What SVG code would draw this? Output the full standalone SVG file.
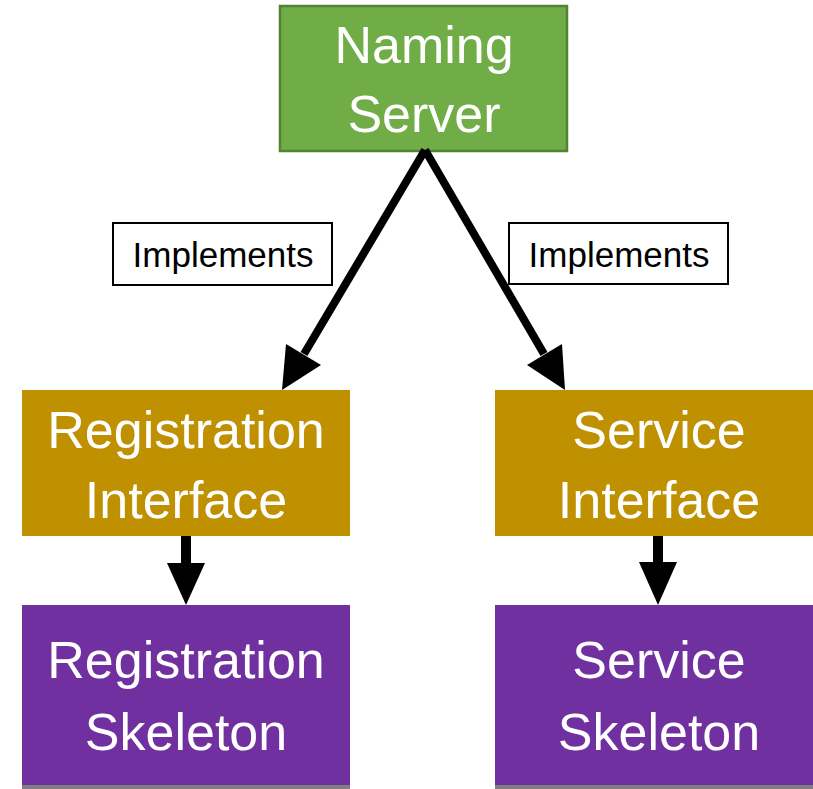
<svg xmlns="http://www.w3.org/2000/svg" width="813" height="789" viewBox="0 0 813 789">
<style>
.t{font-family:"Liberation Sans",Arial,sans-serif;fill:#fff;font-size:52px;text-anchor:middle}
.l{font-family:"Liberation Sans",Arial,sans-serif;fill:#000;font-size:35px;text-anchor:middle}
.lb{fill:#fff;stroke:#000;stroke-width:2}
.c{stroke:#000;fill:none}
.h{fill:#000}
</style>
<rect width="813" height="789" fill="#fff"/>
<g id="naming-server">
<rect x="280" y="6" width="287" height="145" fill="#70AD47" stroke="#548235" stroke-width="2.5"/>
<text class="t" x="424" y="63">Naming</text>
<text class="t" x="424" y="132">Server</text>
</g>
<g id="registration-interface">
<rect x="22" y="390" width="328" height="146" fill="#BF9000"/>
<text class="t" x="186" y="448">Registration</text>
<text class="t" x="186" y="518">Interface</text>
</g>
<g id="service-interface">
<rect x="495" y="390" width="328" height="146" fill="#BF9000"/>
<text class="t" x="659" y="448">Service</text>
<text class="t" x="659" y="518">Interface</text>
</g>
<g id="registration-skeleton">
<rect x="22" y="785" width="328" height="4" fill="#7F7F7F"/>
<rect x="22" y="605" width="328" height="180" fill="#7030A0"/>
<text class="t" x="186" y="678">Registration</text>
<text class="t" x="186" y="750">Skeleton</text>
</g>
<g id="service-skeleton">
<rect x="495" y="785" width="328" height="4" fill="#7F7F7F"/>
<rect x="495" y="605" width="328" height="180" fill="#7030A0"/>
<text class="t" x="659" y="678">Service</text>
<text class="t" x="659" y="750">Skeleton</text>
</g>
<g id="label-left">
<rect class="lb" x="113" y="223" width="219" height="62"/>
<text class="l" x="223" y="267">Implements</text>
</g>
<g id="label-right">
<rect class="lb" x="509" y="223" width="219" height="61"/>
<text class="l" x="619" y="267">Implements</text>
</g>
<g id="connectors">
<line class="c" x1="425" y1="150" x2="304" y2="354" stroke-width="8"/>
<polygon class="h" points="282,390 286,344 321,365"/>
<line class="c" x1="425" y1="150" x2="544" y2="354" stroke-width="8"/>
<polygon class="h" points="565,390 527,365 562,344"/>
<line class="c" x1="186" y1="536" x2="186" y2="565" stroke-width="10"/>
<polygon class="h" points="167,563 205,563 186,605"/>
<line class="c" x1="658" y1="536" x2="658" y2="565" stroke-width="10"/>
<polygon class="h" points="639,562 677,562 658,605"/>
</g>
</svg>
